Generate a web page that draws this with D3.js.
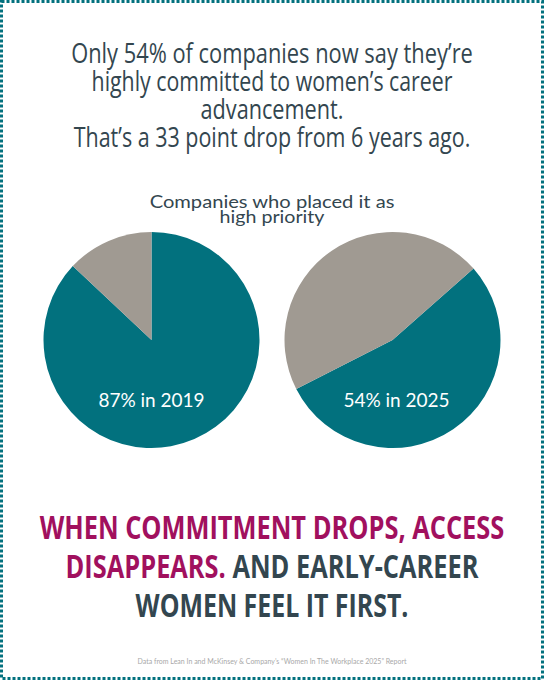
<!DOCTYPE html>
<html>
<head>
<meta charset="utf-8">
<script src="https://cdn.jsdelivr.net/npm/d3@7"></script>
<style>
  html, body { margin: 0; padding: 0; background: #fff; }
  svg { display: block; }
  .cond { font-family: "Open Sans", "Noto Sans", sans-serif; }
  .round { font-family: Lato, "Noto Sans", sans-serif; }
</style>
</head>
<body>
<div id="chart"></div>
<script>
// --- data ---
const titleLines = [
  "Only 54% of companies now say they\u2019re",
  "highly committed to women\u2019s career",
  "advancement.",
  "That\u2019s a 33 point drop from 6 years ago."
];
const subtitleLines = ["Companies who placed it as", "high priority"];
const years = ["2019", "2025"];
const highPriority = [87, 54];
const sliceNames = ["high priority", "other"];
const headlineLines = [
  [{ t: "WHEN COMMITMENT DROPS, ACCESS", c: "pink" }],
  [{ t: "DISAPPEARS. ", c: "pink" }, { t: "AND EARLY-CAREER", c: "dark" }],
  [{ t: "WOMEN FEEL IT FIRST.", c: "dark" }]
];
const footnote = "Data from Lean In and McKinsey & Company\u2019s \u201CWomen In The Workplace 2025\u201D Report";

const width = 544, height = 680;
const colors = { teal: "#02717e", gray: "#a09a92", dark: "#33464f", pink: "#a1105e", note: "#a8a8a8" };

// line widths seen in the reference; the fallback fonts get squeezed to them
const titleWidths = [402, 361, 143, 397];
const subtitleWidths = [245, 105];
const headlineWidths = [465, 413, 273];

const svg = d3.select("#chart").append("svg")
  .attr("width", width).attr("height", height);

// squeeze a centred line horizontally so it spans `w` pixels
function fitWidth(sel, cx, y, w) {
  sel.attr("x", 0).attr("y", 0).attr("text-anchor", "middle");
  const natural = sel.node().getComputedTextLength();
  sel.attr("transform", `translate(${cx},${y}) scale(${w / natural},1)`);
}

// dotted frame
svg.append("rect")
  .attr("x", 1.5).attr("y", 1.5)
  .attr("width", width - 3).attr("height", height - 3)
  .attr("fill", "none")
  .attr("stroke", colors.teal)
  .attr("stroke-width", 3)
  .attr("stroke-dasharray", "3 2");

// title
const title = svg.append("g");
titleLines.forEach((line, i) => {
  const t = title.append("text")
    .attr("class", "cond")
    .attr("font-size", 27)
    .attr("fill", colors.dark)
    .text(line);
  fitWidth(t, width / 2, 63 + i * 28, titleWidths[i]);
});

// subtitle
const sub = svg.append("g");
subtitleLines.forEach((line, i) => {
  const t = sub.append("text")
    .attr("class", "round")
    .attr("font-size", 17)
    .attr("fill", colors.dark)
    .text(line);
  fitWidth(t, width / 2, 208 + i * 15, subtitleWidths[i]);
});

// pies
const radius = 108;
const pieX = d3.scalePoint().domain(years).range([151.5, 392.5]);
const pieY = 340;
const startAngles = { "2019": 0, "2025": 48.6 * Math.PI / 180 };
const arc = d3.arc().innerRadius(0).outerRadius(radius);

years.forEach((yr, i) => {
  const pie = d3.pie().sort(null).value(d => d.v)
    .startAngle(startAngles[yr]).endAngle(startAngles[yr] + 2 * Math.PI);
  const slices = pie([
    { name: sliceNames[0], v: highPriority[i] },
    { name: sliceNames[1], v: 100 - highPriority[i] }
  ]);
  const g = svg.append("g").attr("transform", `translate(${pieX(yr)},${pieY})`);
  g.selectAll("path").data(slices).join("path")
    .attr("d", arc)
    .attr("fill", d => d.index === 0 ? colors.teal : colors.gray);
  g.append("text")
    .attr("class", "round")
    .attr("x", i === 0 ? 0 : 4)
    .attr("y", 67)
    .attr("text-anchor", "middle")
    .attr("font-size", 19)
    .attr("fill", "#fff")
    .text(`${highPriority[i]}% in ${yr}`);
});

// headline
const hl = svg.append("g");
headlineLines.forEach((line, i) => {
  const t = hl.append("text")
    .attr("class", "cond")
    .attr("font-size", 32)
    .attr("font-weight", "bold");
  line.forEach(s => t.append("tspan").attr("fill", colors[s.c]).text(s.t));
  fitWidth(t, width / 2, 539 + i * 39, headlineWidths[i]);
});

// footnote
svg.append("text")
  .attr("class", "round")
  .attr("x", width / 2)
  .attr("y", 664)
  .attr("text-anchor", "middle")
  .attr("font-size", 7)
  .attr("fill", colors.note)
  .text(footnote);
</script>
</body>
</html>
